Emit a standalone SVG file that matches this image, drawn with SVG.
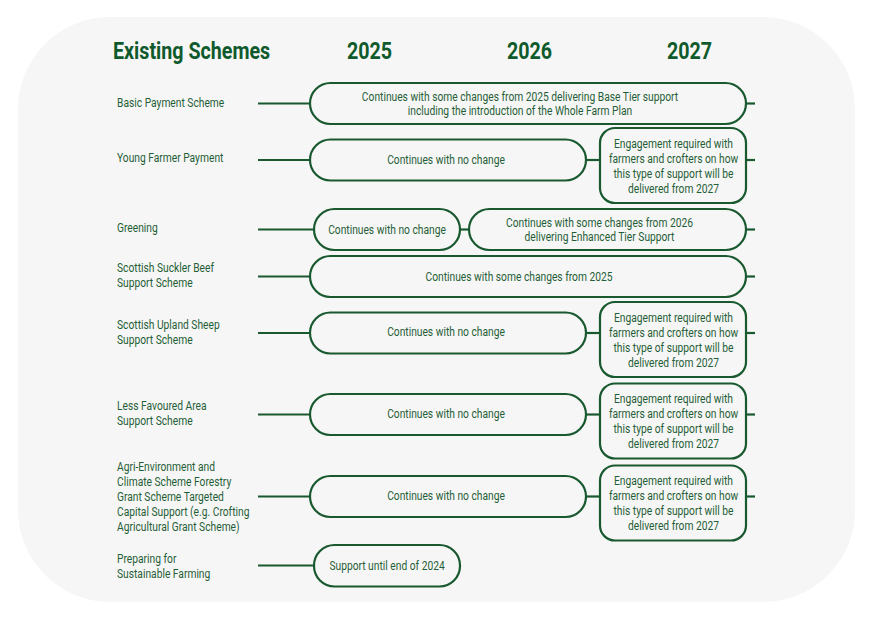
<svg xmlns="http://www.w3.org/2000/svg" width="874" height="618" viewBox="0 0 874 618">
<style>
.bg{fill:#f7f6f6}
.shape{fill:none;stroke:#18592f;stroke-width:2.2}
.ln{stroke:#18592f;stroke-width:2.2;fill:none}
text{font-family:Roboto,"Liberation Sans",sans-serif;font-size:12.5px;fill:#1f5e37;transform-box:fill-box;transform:scaleX(0.82)}
.c{text-anchor:middle;transform-origin:center}
.l{text-anchor:start;transform-origin:left center}
.h{font-size:24px;font-weight:700;fill:#0f5a2c;transform:scaleX(0.82)}
</style>
<rect class="bg" x="18" y="17" width="837" height="585" rx="92" ry="92"/>
<g id="headings">
<text class="h l" x="113" y="59">Existing Schemes</text>
<text class="h c" x="369.5" y="59">2025</text>
<text class="h c" x="529.5" y="59">2026</text>
<text class="h c" x="689.5" y="59">2027</text>
</g>
<g id="connectors">
<line class="ln" x1="258" y1="103.5" x2="310" y2="103.5"/>
<line class="ln" x1="746" y1="103.5" x2="755" y2="103.5"/>
<line class="ln" x1="258" y1="160" x2="310" y2="160"/>
<line class="ln" x1="586" y1="160" x2="600" y2="160"/>
<line class="ln" x1="746" y1="160" x2="755" y2="160"/>
<line class="ln" x1="258" y1="229.5" x2="314" y2="229.5"/>
<line class="ln" x1="460" y1="229.5" x2="469" y2="229.5"/>
<line class="ln" x1="746" y1="229.5" x2="755" y2="229.5"/>
<line class="ln" x1="258" y1="276.5" x2="310" y2="276.5"/>
<line class="ln" x1="746" y1="276.5" x2="755" y2="276.5"/>
<line class="ln" x1="258" y1="333" x2="310" y2="333"/>
<line class="ln" x1="586" y1="333" x2="600" y2="333"/>
<line class="ln" x1="746" y1="333" x2="755" y2="333"/>
<line class="ln" x1="258" y1="414.5" x2="310" y2="414.5"/>
<line class="ln" x1="586" y1="414.5" x2="600" y2="414.5"/>
<line class="ln" x1="746" y1="414.5" x2="755" y2="414.5"/>
<line class="ln" x1="258" y1="496.5" x2="310" y2="496.5"/>
<line class="ln" x1="586" y1="496.5" x2="600" y2="496.5"/>
<line class="ln" x1="746" y1="496.5" x2="755" y2="496.5"/>
<line class="ln" x1="258" y1="565.5" x2="314" y2="565.5"/>
</g>
<g id="label-bps"><text class="l" x="117" y="107">Basic Payment Scheme</text></g>
<g id="label-yfp"><text class="l" x="117" y="162.5">Young Farmer Payment</text></g>
<g id="label-greening"><text class="l" x="117" y="232">Greening</text></g>
<g id="label-ssbs"><text class="l" x="117" y="272">Scottish Suckler Beef</text><text class="l" x="117" y="287">Support Scheme</text></g>
<g id="label-suss"><text class="l" x="117" y="329">Scottish Upland Sheep</text><text class="l" x="117" y="344">Support Scheme</text></g>
<g id="label-lfass"><text class="l" x="117" y="410">Less Favoured Area</text><text class="l" x="117" y="425">Support Scheme</text></g>
<g id="label-agri"><text class="l" x="117" y="471">Agri-Environment and</text><text class="l" x="117" y="486">Climate Scheme Forestry</text><text class="l" x="117" y="501">Grant Scheme Targeted</text><text class="l" x="117" y="516">Capital Support (e.g. Crofting</text><text class="l" x="117" y="531">Agricultural Grant Scheme)</text></g>
<g id="label-psf"><text class="l" x="117" y="563">Preparing for</text><text class="l" x="117" y="578">Sustainable Farming</text></g>
<g id="bps-2025"><rect class="shape" x="310" y="83" width="436" height="41" rx="20.5"/><text class="c" x="520" y="101">Continues with some changes from 2025 delivering Base Tier support</text><text class="c" x="520" y="115">including the introduction of the Whole Farm Plan</text></g>
<g id="yfp-2025"><rect class="shape" x="310" y="139.5" width="276" height="41" rx="20.5"/><text class="c" x="446" y="164">Continues with no change</text></g>
<g id="yfp-2027"><rect class="shape" x="600" y="128" width="146" height="75" rx="15"/><text class="c" x="673.5" y="148">Engagement required with</text><text class="c" x="673.5" y="163">farmers and crofters on how</text><text class="c" x="673.5" y="178">this type of support will be</text><text class="c" x="673.5" y="193">delivered from 2027</text></g>
<g id="greening-2025"><rect class="shape" x="314" y="209" width="146" height="41" rx="20.5"/><text class="c" x="387" y="234">Continues with no change</text></g>
<g id="greening-2026"><rect class="shape" x="469" y="209" width="277" height="41" rx="20.5"/><text class="c" x="599.5" y="227">Continues with some changes from 2026</text><text class="c" x="599.5" y="241">delivering Enhanced Tier Support</text></g>
<g id="ssbs-2025"><rect class="shape" x="310" y="256" width="436" height="41" rx="20.5"/><text class="c" x="519" y="281">Continues with some changes from 2025</text></g>
<g id="suss-2025"><rect class="shape" x="310" y="312.5" width="276" height="41" rx="20.5"/><text class="c" x="446" y="336">Continues with no change</text></g>
<g id="suss-2027"><rect class="shape" x="600" y="302" width="146" height="75" rx="15"/><text class="c" x="673.5" y="322">Engagement required with</text><text class="c" x="673.5" y="337">farmers and crofters on how</text><text class="c" x="673.5" y="352">this type of support will be</text><text class="c" x="673.5" y="367">delivered from 2027</text></g>
<g id="lfass-2025"><rect class="shape" x="310" y="394" width="276" height="41" rx="20.5"/><text class="c" x="446" y="418">Continues with no change</text></g>
<g id="lfass-2027"><rect class="shape" x="600" y="383.5" width="146" height="75" rx="15"/><text class="c" x="673.5" y="403">Engagement required with</text><text class="c" x="673.5" y="418">farmers and crofters on how</text><text class="c" x="673.5" y="433">this type of support will be</text><text class="c" x="673.5" y="448">delivered from 2027</text></g>
<g id="agri-2025"><rect class="shape" x="310" y="476" width="276" height="41" rx="20.5"/><text class="c" x="446" y="500">Continues with no change</text></g>
<g id="agri-2027"><rect class="shape" x="600" y="465.5" width="146" height="75" rx="15"/><text class="c" x="673.5" y="485">Engagement required with</text><text class="c" x="673.5" y="500">farmers and crofters on how</text><text class="c" x="673.5" y="515">this type of support will be</text><text class="c" x="673.5" y="530">delivered from 2027</text></g>
<g id="psf-2025"><rect class="shape" x="314" y="545" width="146" height="41.5" rx="20.5"/><text class="c" x="387" y="570">Support until end of 2024</text></g>
</svg>
